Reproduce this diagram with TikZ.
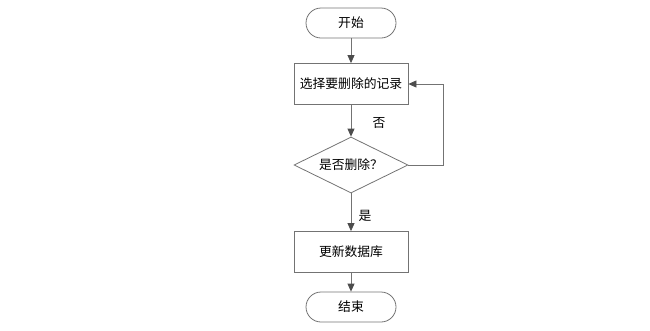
\documentclass[tikz,border=0pt]{standalone}
\usepackage{fontspec}
\setmainfont{Noto Sans CJK SC}
\usetikzlibrary{arrows.meta,shapes.geometric}
\begin{document}
\begin{tikzpicture}[x=1pt,y=-1pt,
  every node/.style={font=\fontsize{12.8}{14}\selectfont, text=black},
  term/.style={draw=black!55, line width=0.8pt, rounded corners=15pt, minimum width=90pt, minimum height=30pt, inner sep=0pt},
  proc/.style={draw=black!55, line width=0.8pt, minimum width=114pt, minimum height=41pt, inner sep=0pt},
  dec/.style={draw=black!55, line width=0.8pt, diamond, aspect=2.04, minimum width=114pt, minimum height=56pt, inner sep=0pt},
  conn/.style={draw=black!55, line width=0.8pt, -{Triangle[length=8pt,width=7pt,fill=black!70,color=black!70]}},
  lbl/.style={inner sep=0pt}
]
\useasboundingbox (0,0) rectangle (650,330);
\node[term] (start) at (351,23) {开始};
\node[proc] (sel) at (351,84) {选择要删除的记录};
\node[dec] (q) at (351,165) {是否删除？};
\node[proc] (upd) at (351,252) {更新数据库};
\node[term] (end) at (351,307) {结束};
\coordinate (c1) at (443,165);
\coordinate (c2) at (443,84);
\draw[conn] (start) -- (sel);
\draw[conn] (sel) -- (q);
\draw[conn] (q.east) -- (c1) -- (c2) -- (sel.east);
\draw[conn] (q) -- (upd);
\draw[conn] (upd) -- (end);
\node[lbl] (no) at (379,123) {否};
\node[lbl] (yes) at (365,216) {是};
\end{tikzpicture}
\end{document}
